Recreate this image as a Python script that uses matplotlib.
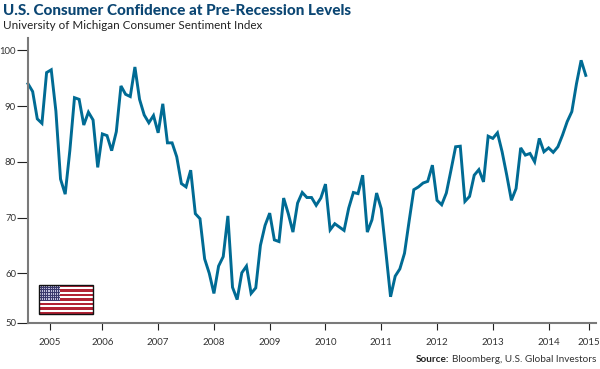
import matplotlib
matplotlib.use('Agg')
import matplotlib.pyplot as plt
from matplotlib.patches import Rectangle

plt.rcParams['font.family'] = ['Lato', 'DejaVu Sans']

# monthly index values
sentiment = [94.0, 92.6, 87.7, 86.9, 96.0, 96.5, 89.1, 76.9, 74.2, 82.0, 91.5,
             91.2, 86.6, 88.9, 87.5, 79.0, 85.0, 84.7, 82.0, 85.4, 93.6, 92.1,
             91.7, 97.0, 91.2, 88.4, 87.0, 88.3, 85.2, 90.4, 83.4, 83.4, 80.9,
             76.1, 75.5, 78.5, 70.7, 69.8, 62.6, 60.0, 56.4, 61.3, 63.0, 70.3,
             57.5, 55.3, 60.1, 61.3, 56.4, 57.4, 65.0, 68.6, 70.8, 66.0, 65.7,
             73.5, 70.7, 67.4, 72.6, 74.5, 73.6, 73.6, 72.2, 73.5, 76.0, 67.8,
             68.9, 68.3, 67.7, 71.7, 74.5, 74.3, 77.6, 67.4, 69.6, 74.4, 71.6,
             63.8, 55.8, 59.5, 60.8, 63.6, 69.4, 75.0, 75.5, 76.2, 76.5, 79.4,
             73.1, 72.3, 74.4, 78.5, 82.7, 82.8, 72.9, 73.8, 77.6, 78.6, 76.4,
             84.6, 84.2, 85.2, 81.8, 77.6, 73.1, 75.2, 82.5, 81.2, 81.5, 80.0,
             84.2, 81.8, 82.5, 81.7, 82.7, 84.8, 87.2, 89.0, 94.0, 98.2, 95.5]
months = list(range(len(sentiment)))

year_ticks = [4.7, 16, 28, 40, 52, 64, 76, 88, 100, 112, 120.6]
year_labels = ['2005', '2006', '2007', '2008', '2009', '2010', '2011', '2012',
               '2013', '2014', '2015']
value_ticks = [51.1, 60, 70, 80, 90, 100]
value_labels = ['50', '60', '70', '80', '90', '100']

W, H = 600, 369
fig = plt.figure(figsize=(W / 100, H / 100), dpi=100)
ax = fig.add_axes([28 / W, 1 - 323 / H, 568 / W, 285 / H])

ax.plot(months, sentiment, color='#006b94', lw=2.1, solid_joinstyle='miter',
        clip_on=False)
ax.set_xlim(0, 122.2)
ax.set_ylim(51.1, 102.2)
ax.set_xticks(year_ticks, year_labels)
ax.set_yticks(value_ticks, value_labels)
ax.tick_params(axis='x', length=5, width=0.8, color='#222222', pad=6,
               labelsize=7, labelcolor='#333333')
ax.tick_params(axis='y', length=8, width=0.8, color='#222222', pad=0.6,
               labelsize=6.8, labelcolor='#333333')
for s in ['top', 'right']:
    ax.spines[s].set_visible(False)
for s in ['left', 'bottom']:
    ax.spines[s].set_color('#7a7a7a')
    ax.spines[s].set_linewidth(1.5)

fig.text(3 / W, 1 - 11 / H, 'U.S. Consumer Confidence at Pre-Recession Levels',
         fontsize=11, fontweight='black', color='#0b4673', va='center')
fig.text(3 / W, 1 - 25.5 / H, 'University of Michigan Consumer Sentiment Index',
         fontsize=8.4, color='#222222', va='center')
fig.text(416 / W, 1 - 359 / H, 'Source:', fontsize=7.2, fontweight='bold',
         color='#222222', va='center')
fig.text(596 / W, 1 - 359 / H, 'Bloomberg, U.S. Global Investors', fontsize=7.2,
         color='#333333', va='center', ha='right')

# flag
flag = fig.add_axes([38.5 / W, 1 - 314 / H, 54.5 / W, 29 / H])
flag.set_xlim(0, 1)
flag.set_ylim(0, 13)
flag.axis('off')
for i in range(13):
    c = '#b22234' if i % 2 == 0 else '#ffffff'
    flag.add_patch(Rectangle((0, i), 1, 1, color=c, lw=0))
flag.add_patch(Rectangle((0, 6), 0.4, 7, color='#3c3b6e', lw=0))
star_x = [0.03 + 0.034 * i for i in range(11)]
star_y = [6.6 + 0.72 * j for j in range(9)]
flag.scatter([x for x in star_x for y in star_y], [y for x in star_x for y in star_y],
             s=0.5, color='#c9c9e0', lw=0)
flag.add_patch(Rectangle((0, 0), 1, 13, fill=False, ec='#111111', lw=1.0, clip_on=False))

fig.savefig('out.png', dpi=100)
